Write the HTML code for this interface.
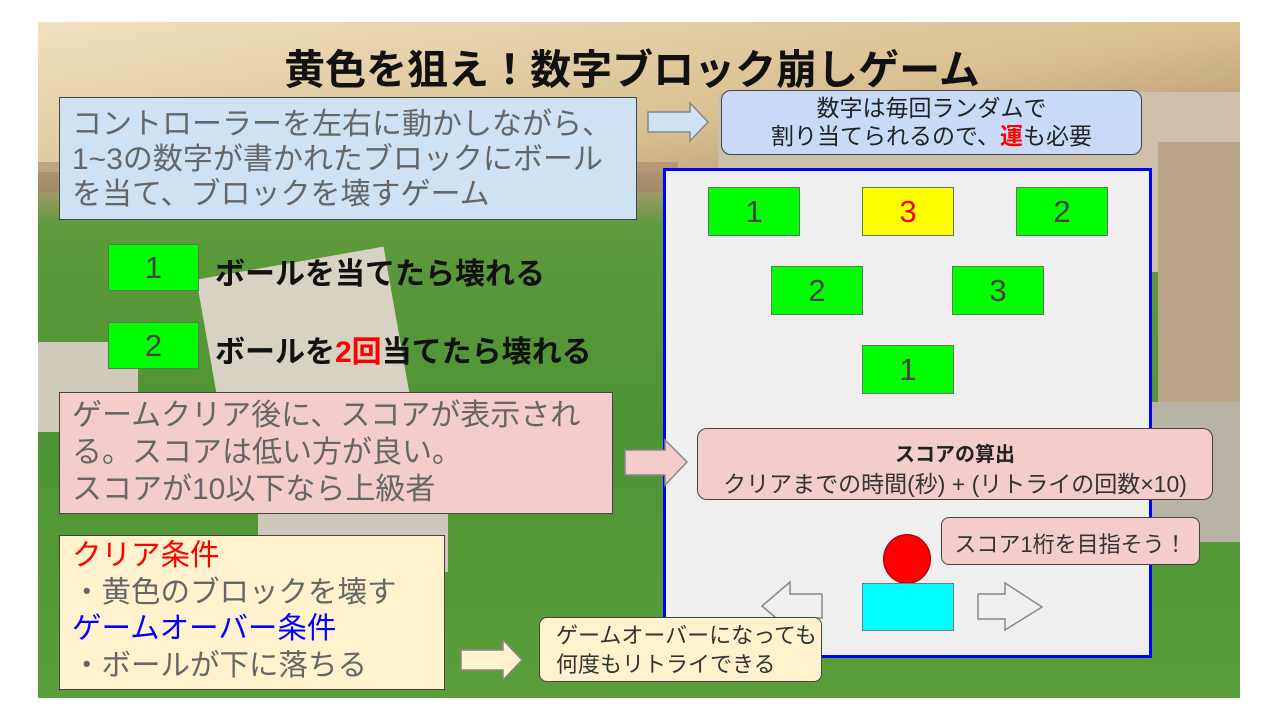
<!DOCTYPE html>
<html><head><meta charset="utf-8">
<style>
*{margin:0;padding:0;box-sizing:border-box}
body{width:1280px;height:720px;background:#fff;position:relative;overflow:hidden;font-family:"Liberation Sans","Noto Sans CJK JP",sans-serif}
.a{position:absolute}
.bg{left:38px;top:22px;width:1202px;height:676px;overflow:hidden;
background:linear-gradient(180deg,#e6d2a8 0%,#d8bd8e 18%,#b39a78 24%,#5d9a3c 30%,#4f9434 60%,#5a9e3a 100%)}
.blk{position:absolute;background:#00ff00;border:1px solid #5a7a5a;color:#444;font-size:31px;display:flex;align-items:center;justify-content:center}
.t{position:absolute;white-space:nowrap}
</style></head><body>
<div class="a bg">
  <div class="a" style="left:0;top:0;width:1202px;height:150px;background:linear-gradient(170deg,#efe0bf,#d9bf90 60%,#a88c6c)"></div>
  <div class="a" style="left:0;top:140px;width:640px;height:30px;background:#9a8064;opacity:.5"></div>
  <div class="a" style="left:680px;top:70px;width:522px;height:180px;background:#cdbfa8"></div>
  <div class="a" style="left:1120px;top:120px;width:82px;height:260px;background:#bba58a"></div>
  <div class="a" style="left:170px;top:240px;width:190px;height:150px;background:#d8d2c4;transform:rotate(-10deg)"></div>
  <div class="a" style="left:0;top:320px;width:100px;height:90px;background:#d0cabb"></div>
  <div class="a" style="left:220px;top:480px;width:190px;height:70px;background:#cfc9bc"></div>
  <div class="a" style="left:1110px;top:380px;width:92px;height:140px;background:#b7b1a6"></div>
</div>
<div class="t" style="left:0;width:1264px;top:36px;text-align:center;font-size:41px;font-weight:bold;color:#111">黄色を狙え！数字ブロック崩しゲーム</div>

<div class="a" style="left:59px;top:97px;width:578px;height:123px;background:#cfe2f3;border:1.5px solid #444"></div>
<div class="t" style="left:72px;top:107px;font-size:30px;line-height:35px;color:#666">コントローラーを左右に動かしながら、<br>1~3の数字が書かれたブロックにボール<br>を当て、ブロックを壊すゲーム</div>

<div class="a" style="left:721px;top:90px;width:421px;height:65px;background:#c9daf8;border:1.5px solid #444;border-radius:10px"></div>
<div class="t" style="left:721px;width:421px;top:94px;text-align:center;font-size:23px;line-height:28px;color:#222">数字は毎回ランダムで<br>割り当てられるので、<span style="color:#f00;font-weight:bold">運</span>も必要</div>

<div class="a" style="left:663px;top:168px;width:489px;height:490px;background:#efefef;border:3px solid #0000ff"></div>
<div class="blk" style="left:708px;top:187px;width:92px;height:49px">1</div>
<div class="blk" style="left:862px;top:187px;width:92px;height:49px;background:#ffff00;color:#f00">3</div>
<div class="blk" style="left:1016px;top:187px;width:92px;height:49px">2</div>
<div class="blk" style="left:771px;top:266px;width:92px;height:49px">2</div>
<div class="blk" style="left:952px;top:266px;width:92px;height:49px">3</div>
<div class="blk" style="left:862px;top:345px;width:92px;height:49px">1</div>

<div class="blk" style="left:108px;top:244px;width:91px;height:47px">1</div>
<div class="blk" style="left:108px;top:322px;width:91px;height:47px">2</div>
<div class="t" style="left:215px;top:249px;font-size:30px;font-weight:bold;color:#111">ボールを当てたら壊れる</div>
<div class="t" style="left:215px;top:327px;font-size:30px;font-weight:bold;color:#111">ボールを<span style="color:#f00">2回</span>当てたら壊れる</div>

<div class="a" style="left:59px;top:392px;width:554px;height:122px;background:#f4cccc;border:1.5px solid #444"></div>
<div class="t" style="left:72px;top:397px;font-size:30px;line-height:37px;color:#666">ゲームクリア後に、スコアが表示され<br>る。スコアは低い方が良い。<br>スコアが10以下なら上級者</div>

<div class="a" style="left:697px;top:428px;width:516px;height:72px;background:#f4cccc;border:1.5px solid #444;border-radius:10px"></div>
<div class="t" style="left:697px;width:516px;top:438px;text-align:center;font-size:20px;font-weight:bold;color:#222">スコアの算出</div>
<div class="t" style="left:697px;width:516px;top:465px;text-align:center;font-size:23px;color:#333">クリアまでの時間(秒) + (リトライの回数×10)</div>

<div class="a" style="left:941px;top:517px;width:259px;height:48px;background:#f4cccc;border:1.5px solid #444;border-radius:8px"></div>
<div class="t" style="left:941px;width:259px;top:527px;text-align:center;font-size:22px;color:#333">スコア1桁を目指そう！</div>

<div class="a" style="left:883px;top:534px;width:48px;height:50px;background:#f00;border:1px solid #900;border-radius:50%"></div>
<div class="a" style="left:862px;top:583px;width:92px;height:48px;background:#00ffff;border:1px solid #777"></div>

<svg class="a" style="left:0;top:0" width="1280" height="720">
<polygon points="822,594 790,594 790,582 762,606 790,630 790,618 822,618" fill="#efefef" stroke="#888" stroke-width="1.5"/>
<polygon points="978,594 1005,594 1005,583 1042,607 1005,630 1005,619 978,619" fill="#efefef" stroke="#888" stroke-width="1.5"/>
</svg>

<div class="a" style="left:59px;top:535px;width:386px;height:155px;background:#fff2cc;border:1.5px solid #444"></div>
<div class="t" style="left:72px;top:538px;font-size:29.5px;line-height:36.5px;color:#666"><span style="color:#f00">クリア条件</span><br>・黄色のブロックを壊す<br><span style="color:#00f">ゲームオーバー条件</span><br>・ボールが下に落ちる</div>

<div class="a" style="left:539px;top:617px;width:283px;height:65px;background:#fff2cc;border:1.5px solid #444;border-radius:8px"></div>
<div class="t" style="left:556px;top:621px;font-size:22px;line-height:29px;color:#333">ゲームオーバーになっても<br>何度もリトライできる</div>

<svg class="a" style="left:0;top:0" width="1280" height="720">
<polygon points="648,112 690,112 690,103 708,122 690,141 690,132 648,132" fill="#cfe2f3" stroke="#888" stroke-width="1.5"/>
<polygon points="625,450 665,450 665,440 687,462 665,485 665,475 625,475" fill="#f4cccc" stroke="#888" stroke-width="1.5"/>
<polygon points="461,650 503,650 503,640 522,660 503,680 503,670 461,670" fill="#fff2cc" stroke="#888" stroke-width="1.5"/>
</svg>
</body></html>
